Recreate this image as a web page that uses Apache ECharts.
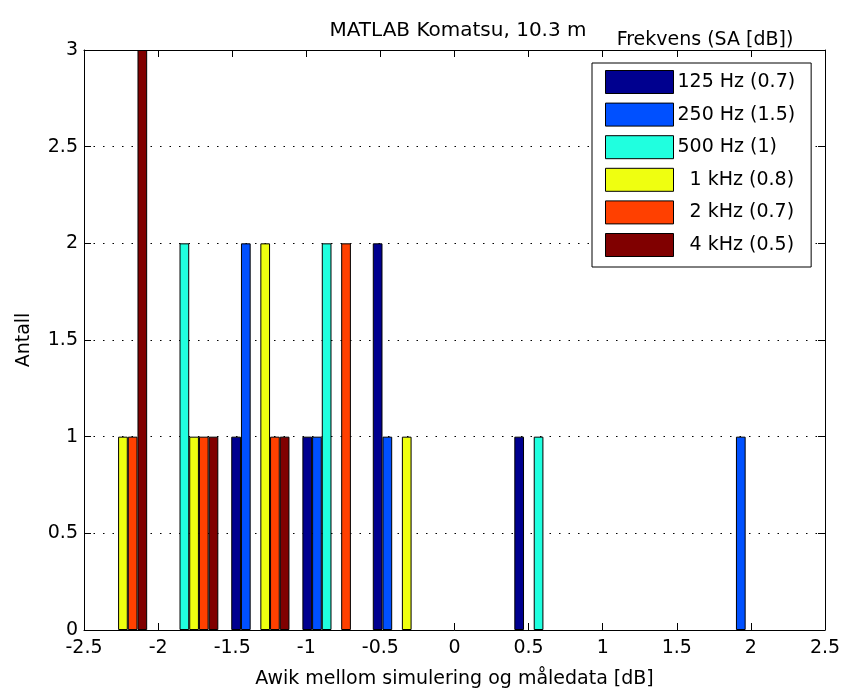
<!DOCTYPE html>
<html>
<head>
<meta charset="utf-8">
<script src="https://cdn.jsdelivr.net/npm/echarts@6/dist/echarts.min.js"></script>
<style>
  html, body { margin: 0; padding: 0; background: #fff; }
  #chart { width: 844px; height: 694px; }
</style>
</head>
<body>
<div id="chart"></div>
<script>
// bin centres of the histogram (dB)
const binCenters = [-2.27, -1.79, -1.31, -0.83, -0.355, 0.12, 0.6, 1.08, 1.56, 2.03];
// counts per frequency band, one value per bin
const hz125 = [0, 0, 1, 1, 2, 0, 1, 0, 0, 0];
const hz250 = [0, 0, 2, 1, 1, 0, 0, 0, 0, 1];
const hz500 = [0, 2, 0, 2, 0, 0, 1, 0, 0, 0];
const khz1  = [1, 1, 2, 0, 1, 0, 0, 0, 0, 0];
const khz2  = [1, 1, 1, 2, 0, 0, 0, 0, 0, 0];
const khz4  = [3, 1, 1, 0, 0, 0, 0, 0, 0, 0];
const seriesNames = ['125 Hz (0.7)', '250 Hz (1.5)', '500 Hz (1)', '  1 kHz (0.8)', '  2 kHz (0.7)', '  4 kHz (0.5)'];
const seriesCounts = [hz125, hz250, hz500, khz1, khz2, khz4];
const colors = ['#00008f', '#0050ff', '#20ffdf', '#efff10', '#ff4000', '#800000'];

const font = 'DejaVu Sans, sans-serif';
const chart = echarts.init(document.getElementById('chart'));

// mirrored axes give the closed MATLAB box with inward ticks
function valueAxis(extra) {
  return Object.assign({
    type: 'value',
    axisLine: { show: true, onZero: false, lineStyle: { color: '#000', width: 1 } },
    axisTick: { show: true, inside: true, length: 7, lineStyle: { color: '#000' } },
    splitLine: { show: false },
    axisLabel: { show: false }
  }, extra);
}

chart.setOption({
  animation: false,
  title: [
    {
      text: 'MATLAB Komatsu, 10.3 m',
      left: 453, top: 16, textAlign: 'center',
      textStyle: { fontFamily: font, fontSize: 20, fontWeight: 'normal', color: '#000' }
    },
    {
      text: 'Frekvens (SA [dB])',
      left: 700, top: 26, textAlign: 'center',
      textStyle: { fontFamily: font, fontSize: 19, fontWeight: 'normal', color: '#000' }
    }
  ],
  grid: { left: 84, right: 19, top: 50, bottom: 61 },
  legend: {
    orient: 'vertical',
    left: 592, top: 63,
    itemWidth: 68, itemHeight: 23, itemGap: 8.6,
    padding: [7, 16, 10, 13],
    backgroundColor: '#fff',
    borderColor: '#000', borderWidth: 1,
    icon: 'rect',
    itemStyle: { borderColor: '#000', borderWidth: 1 },
    textStyle: { fontFamily: font, fontSize: 19, color: '#000', lineHeight: 22, padding: [0, 0, 0, -1] },
    data: seriesNames
  },
  xAxis: [
    valueAxis({
      position: 'bottom', min: -2.5, max: 2.5, interval: 0.5,
      name: 'Awik mellom simulering og måledata [dB]',
      nameLocation: 'middle', nameGap: 40,
      nameTextStyle: { fontFamily: font, fontSize: 19, color: '#000' },
      axisLabel: { show: true, fontFamily: font, fontSize: 19, color: '#000', margin: 9 }
    }),
    valueAxis({ position: 'top', min: -2.5, max: 2.5, interval: 0.5 })
  ],
  yAxis: [
    valueAxis({
      position: 'left', min: 0, max: 3, interval: 0.5,
      name: 'Antall', nameLocation: 'middle', nameGap: 50, nameRotate: 90,
      nameTextStyle: { fontFamily: font, fontSize: 19, color: '#000' },
      axisLabel: { show: true, fontFamily: font, fontSize: 19, color: '#000', margin: 6 },
      splitLine: { show: true, lineStyle: { color: '#000', width: 1, type: [1.5, 8] } }
    }),
    valueAxis({ position: 'right', min: 0, max: 3, interval: 0.5 })
  ],
  series: seriesNames.map((name, s) => ({
    name: name,
    type: 'bar',
    xAxisIndex: 0, yAxisIndex: 0,
    barWidth: 9.7,
    barGap: '0%',
    itemStyle: { color: colors[s], borderColor: '#000', borderWidth: 1 },
    data: binCenters.map((x, i) => [x, seriesCounts[s][i]]).filter(d => d[1] > 0)
  }))
});
</script>
</body>
</html>
